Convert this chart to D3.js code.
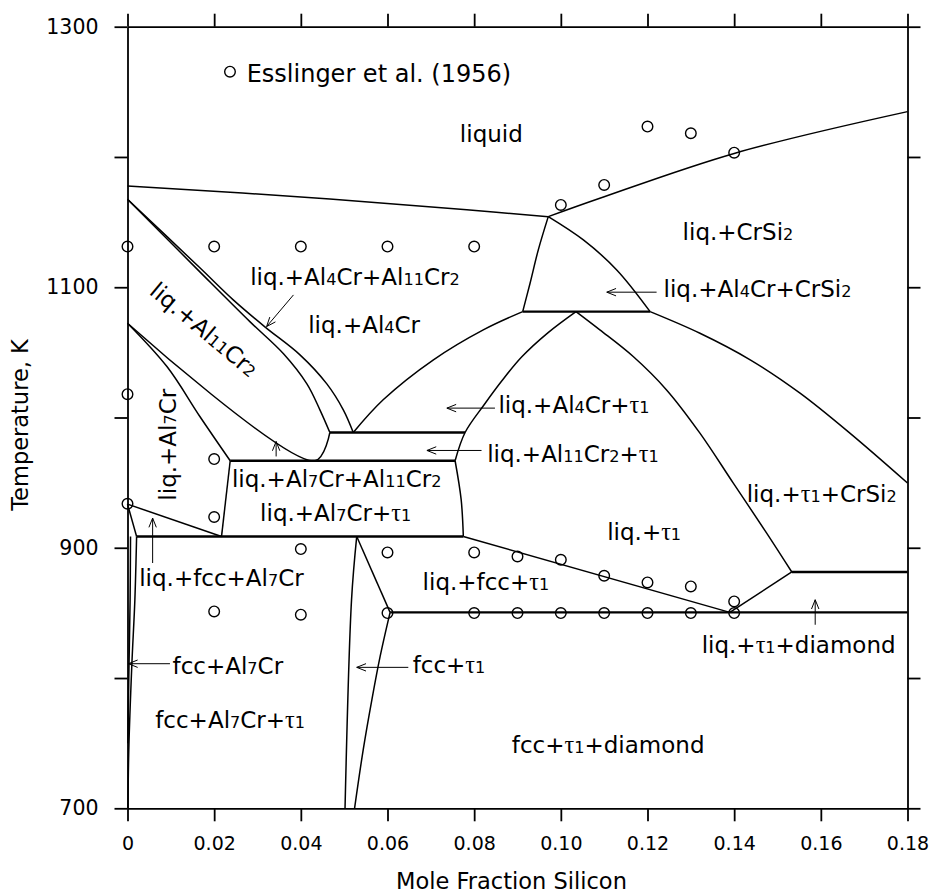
<!DOCTYPE html>
<html>
<head>
<meta charset="utf-8">
<script src="https://cdn.jsdelivr.net/npm/d3@7/dist/d3.min.js"></script>
<style>
  body { margin: 0; background: #fff; }
  svg text { font-family: "DejaVu Sans", "Open Sans", sans-serif; fill: #000; }
  .tau { font-family: "Liberation Serif", "DejaVu Serif", serif; }
</style>
</head>
<body>
<div id="chart"></div>
<script>
// axis ticks
var xTicks = [0, 0.02, 0.04, 0.06, 0.08, 0.10, 0.12, 0.14, 0.16, 0.18];
var yTicks = [700, 800, 900, 1000, 1100, 1200, 1300];
var yLabelled = [700, 900, 1100, 1300];

// phase boundaries: [mole fraction Si, temperature K]
var liquidusAl4Cr = [[0, 1177.8], [0.0467, 1167.8], [0.0783, 1159.4], [0.0971, 1154.2]];
var liquidusCrSi2 = [[0.0971, 1154.2], [0.1090, 1168.3], [0.1402, 1202.9], [0.18, 1234.8]];
var triLeft = [[0.0971, 1154.2], [0.0948, 1128.7], [0.0929, 1103.1], [0.0912, 1081.3]];
var triRight = [[0.0971, 1154.2], [0.1052, 1136.3], [0.1129, 1113.3], [0.1206, 1081.3]];
var crsi2Tau = [[0.1206, 1081.3], [0.1321, 1064.7], [0.1437, 1044.3], [0.1552, 1018.7], [0.1667, 988.0], [0.18, 949.7]];
var tauRight = [[0.1035, 1081.3], [0.1090, 1067.3], [0.1167, 1046.8], [0.1244, 1021.2], [0.1321, 988.0],
                [0.1398, 949.6], [0.1475, 911.3], [0.1533, 881.4]];
var tauLeft = [[0.1035, 1081.3], [0.0970, 1065.0], [0.0910, 1046.6], [0.0864, 1028.2], [0.0823, 1009.8],
               [0.0779, 988.5], [0.0756, 966.8]];
var al4crLow = [[0.0521, 988.5], [0.0590, 1013.6], [0.0706, 1044.3], [0.0821, 1067.3], [0.0912, 1081.3]];
var bandLeft = [[0, 1167.6], [0.0167, 1111.8], [0.0283, 1073.4], [0.0360, 1048.9], [0.0414, 1025.8], [0.0444, 1005.9], [0.0467, 988.5]];
var bandRight = [[0, 1167.6], [0.0167, 1114.9], [0.0244, 1090.3], [0.0317, 1069.6], [0.0398, 1048.1], [0.0460, 1025.8], [0.0498, 1005.9], [0.0521, 988.5]];
var al11cr2Low = [[0, 1072.4], [0.0433, 966.8], [0.0467, 988.5]];
var al7crLiq = [[0, 1072.4], [0.0091, 1039.1], [0.0167, 1000.8], [0.0237, 966.8]];
var tri967Left = [[0.0237, 966.8], [0.0217, 908.7]];
var tri967Right = [[0.0756, 966.8], [0.0770, 936.9], [0.0775, 908.7]];
var fccLiq = [[0, 933.5], [0.0217, 908.7]];
var fccLiq2 = [[0, 933.5], [0.0021, 908.7]];
var fccSolvus = [[0.0021, 908.7], [0.0017, 860], [0.0010, 810], [0.0003, 745], [0.0001, 700]];
var fccSolvus2 = [[0.0007, 908.7], [0.0006, 860], [0.0003, 800], [0.0001, 750]];
var tauSolvus = [[0.0529, 908.7], [0.0517, 860], [0.0502, 700]];
var fccTauLiq = [[0.0529, 908.7], [0.0606, 850.4]];
var fccTauSolvus = [[0.0606, 850.4], [0.0583, 816.6], [0.0564, 783.5], [0.0544, 745.1], [0.0524, 700]];
var fccTauLiq2 = [[0.0775, 908.7], [0.1390, 850.4]];
var diamondLiq = [[0.1390, 850.4], [0.1533, 881.4]];

// invariant (horizontal) lines: [T, c from, c to]
var invariants = [[1081.3, 0.0912, 0.1206], [988.5, 0.0467, 0.0779], [966.8, 0.0237, 0.0756],
                  [908.7, 0.0021, 0.0775], [881.4, 0.1533, 0.18], [850.4, 0.0606, 0.18]];

// Esslinger et al. (1956)
var esslingerPoints = [
  [0, 1131.2], [0.02, 1131.2], [0.04, 1131.2], [0.06, 1131.2], [0.08, 1131.2],
  [0.10, 1163.2], [0.11, 1178.5], [0.12, 1223.3], [0.13, 1218.2], [0.14, 1203.3],
  [0, 1017.9], [0.02, 968.1], [0, 933.8], [0.02, 923.6],
  [0.04, 899.0], [0.06, 896.4], [0.08, 896.4], [0.09, 893.3], [0.10, 890.8], [0.11, 878.5],
  [0.12, 873.4], [0.13, 870.3], [0.14, 858.8],
  [0.02, 851.1], [0.04, 848.6], [0.06, 849.9], [0.08, 849.9], [0.09, 849.9], [0.10, 849.9],
  [0.11, 849.9], [0.12, 849.9], [0.13, 849.9], [0.14, 849.9]
];

// region labels: text, c, T, rotation
var labels = [
  ["liquid", 0.0767, 1211.8, 0],
  ["liq.+CrSi{2}", 0.1281, 1136.3, 0],
  ["liq.+Al{4}Cr+CrSi{2}", 0.1237, 1092.8, 0],
  ["liq.+Al{4}Cr+Al{11}Cr{2}", 0.0283, 1101.4, 0],
  ["liq.+Al{4}Cr", 0.0417, 1064.7, 0],
  ["liq.+Al{11}Cr{2}", 0.0165, 1062.7, 40],
  ["liq.+Al{7}Cr", 0.0112, 979.1, -90],
  ["liq.+Al{7}Cr+Al{11}Cr{2}", 0.0241, 947.0, 0],
  ["liq.+Al{7}Cr+τ{1}", 0.0306, 920.2, 0],
  ["liq.+fcc+Al{7}Cr", 0.0027, 870.8, 0],
  ["liq.+Al{4}Cr+τ{1}", 0.0856, 1003.4, 0],
  ["liq.+Al{11}Cr{2}+τ{1}", 0.0830, 966.2, 0],
  ["liq.+τ{1}", 0.1107, 906.1, 0],
  ["liq.+τ{1}+CrSi{2}", 0.1429, 935.5, 0],
  ["liq.+fcc+τ{1}", 0.0681, 867.8, 0],
  ["liq.+τ{1}+diamond", 0.1325, 819.2, 0],
  ["fcc+Al{7}Cr", 0.0104, 803.3, 0],
  ["fcc+Al{7}Cr+τ{1}", 0.0064, 761.7, 0],
  ["fcc+τ{1}", 0.0658, 803.9, 0],
  ["fcc+τ{1}+diamond", 0.0887, 742.5, 0]
];

// arrows: [c from, T from, c to, T to]
var arrows = [
  [0.1221, 1096.2, 0.1106, 1096.2],
  [0.0383, 1094.1, 0.0321, 1069.8],
  [0.0343, 970.1, 0.0343, 981.6],
  [0.0058, 888.3, 0.0058, 922.8],
  [0.0848, 1007.2, 0.0737, 1007.2],
  [0.0817, 974.7, 0.0691, 974.7],
  [0.1587, 840.9, 0.1587, 860.1],
  [0.0098, 811.0, 0.0002, 811.0],
  [0.0648, 808.2, 0.0529, 808.2]
];

var width = 929, height = 896;
var margin = {top: 26.7, right: 21.5, bottom: 87.7, left: 127.5};
var w = width - margin.left - margin.right;
var h = height - margin.top - margin.bottom;

var svg = d3.select("#chart").append("svg")
    .attr("width", width)
    .attr("height", height);

var g = svg.append("g")
    .attr("transform", "translate(" + margin.left + "," + margin.top + ")");

var x = d3.scaleLinear().domain([0, 0.18]).range([0, w]);
var y = d3.scaleLinear().domain([700, 1300]).range([h, 0]);

// axes on all four sides, ticks outward
var xFmt = function(d) { return d === 0 ? "0" : d3.format(".2f")(d); };
var yFmt = function(d) { return yLabelled.indexOf(d) >= 0 ? d : ""; };

var xAxisG = g.append("g").attr("class", "axis")
    .attr("transform", "translate(0," + h + ")")
    .call(d3.axisBottom(x).tickValues(xTicks).tickFormat(xFmt).tickSize(13).tickSizeOuter(0).tickPadding(15));
g.append("g").attr("class", "axis")
    .call(d3.axisTop(x).tickValues(xTicks).tickFormat("").tickSize(13).tickSizeOuter(0));
var yAxisG = g.append("g").attr("class", "axis")
    .call(d3.axisLeft(y).tickValues(yTicks).tickFormat(yFmt).tickSize(13).tickSizeOuter(0).tickPadding(16));
g.append("g").attr("class", "axis")
    .attr("transform", "translate(" + w + ",0)")
    .call(d3.axisRight(y).tickValues(yTicks).tickFormat("").tickSize(13).tickSizeOuter(0));

g.selectAll(".axis path, .axis line")
    .attr("stroke", "#000")
    .attr("stroke-width", 1.8);
g.selectAll(".axis text")
    .style("font-family", '"DejaVu Sans", sans-serif');
xAxisG.selectAll("text").attr("font-size", 19);
yAxisG.selectAll("text").attr("font-size", 20.5);

svg.append("text")
    .attr("x", 511.5)
    .attr("y", 889)
    .attr("text-anchor", "middle")
    .attr("font-size", 22.5)
    .text("Mole Fraction Silicon");

svg.append("text")
    .attr("transform", "translate(28,425) rotate(-90)")
    .attr("text-anchor", "middle")
    .attr("font-size", 22.5)
    .text("Temperature, K");

// phase boundaries
var line = d3.line()
    .x(function(d) { return x(d[0]); })
    .y(function(d) { return y(d[1]); })
    .curve(d3.curveCatmullRom.alpha(0.5));

var boundaries = [liquidusAl4Cr, liquidusCrSi2, triLeft, triRight, crsi2Tau, tauRight, tauLeft,
  al4crLow, bandLeft, bandRight, al11cr2Low, al7crLiq, tri967Left, tri967Right, fccLiq, fccLiq2,
  fccSolvus, fccSolvus2, tauSolvus, fccTauLiq, fccTauSolvus, fccTauLiq2, diamondLiq];

g.append("g").selectAll("path")
    .data(boundaries)
  .enter().append("path")
    .attr("d", line)
    .attr("fill", "none")
    .attr("stroke", "#000")
    .attr("stroke-width", 1.5)
    .attr("stroke-linejoin", "round");

g.append("g").selectAll("line")
    .data(invariants)
  .enter().append("line")
    .attr("x1", function(d) { return x(d[1]); })
    .attr("x2", function(d) { return x(d[2]); })
    .attr("y1", function(d) { return y(d[0]); })
    .attr("y2", function(d) { return y(d[0]); })
    .attr("stroke", "#000")
    .attr("stroke-width", 2.4);

// experimental points
g.append("g").selectAll("circle")
    .data(esslingerPoints)
  .enter().append("circle")
    .attr("cx", function(d) { return x(d[0]); })
    .attr("cy", function(d) { return y(d[1]); })
    .attr("r", 5.3)
    .attr("fill", "none")
    .attr("stroke", "#000")
    .attr("stroke-width", 1.4);

// legend
g.append("circle")
    .attr("cx", x(0.02365))
    .attr("cy", y(1265.5))
    .attr("r", 5.3)
    .attr("fill", "none")
    .attr("stroke", "#000")
    .attr("stroke-width", 1.4);
g.append("text")
    .attr("x", x(0.0275))
    .attr("y", y(1257.8))
    .attr("font-size", 24)
    .text("Esslinger et al. (1956)");

// labels with small subscripts
function richText(sel, str) {
  str.split(/(\{[^}]*\}|τ)/).forEach(function(part) {
    if (!part) return;
    if (part === "τ") sel.append("tspan").attr("class", "tau").attr("font-size", "1.05em").text(part);
    else if (part[0] === "{") sel.append("tspan").attr("font-size", "0.7em").text(part.slice(1, -1));
    else sel.append("tspan").text(part);
  });
}

g.append("g").selectAll("text")
    .data(labels)
  .enter().append("text")
    .attr("transform", function(d) {
      return "translate(" + x(d[1]) + "," + y(d[2]) + ")" + (d[3] ? " rotate(" + d[3] + ")" : "");
    })
    .attr("text-anchor", function(d) { return d[3] ? "middle" : "start"; })
    .attr("font-size", 23)
    .each(function(d) { richText(d3.select(this), d[0]); });

// arrows with open heads
var ag = g.append("g").attr("stroke", "#000").attr("stroke-width", 1).attr("fill", "none");
arrows.forEach(function(a) {
  var x1 = x(a[0]), y1 = y(a[1]), x2 = x(a[2]), y2 = y(a[3]);
  var ang = Math.atan2(y2 - y1, x2 - x1), len = 10, spread = 0.38;
  ag.append("line").attr("x1", x1).attr("y1", y1).attr("x2", x2).attr("y2", y2);
  ag.append("path").attr("d",
    "M" + (x2 - len * Math.cos(ang - spread)) + "," + (y2 - len * Math.sin(ang - spread)) +
    "L" + x2 + "," + y2 +
    "L" + (x2 - len * Math.cos(ang + spread)) + "," + (y2 - len * Math.sin(ang + spread)));
});
</script>
</body>
</html>
